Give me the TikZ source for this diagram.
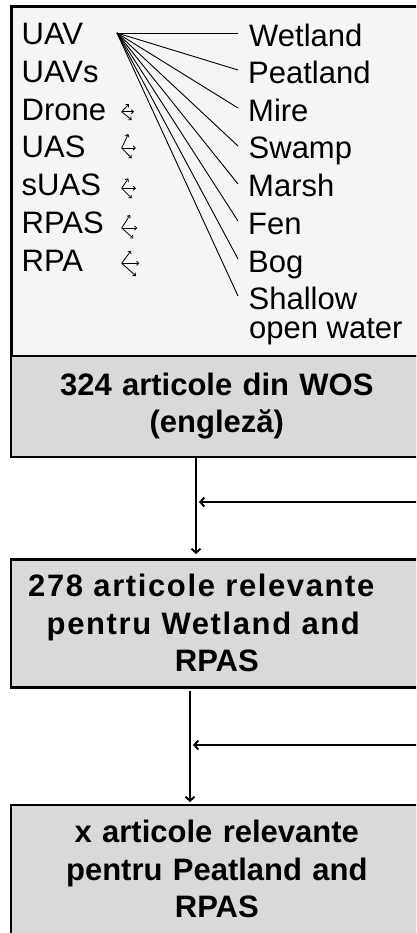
\documentclass[tikz,border=0pt]{standalone}
\usepackage{fontspec}
\setmainfont{Liberation Sans}
\usetikzlibrary{arrows.meta,calc}
\definecolor{topfill}{HTML}{F5F5F5}
\definecolor{boxfill}{HTML}{D9D9D9}
\tikzset{
  term/.style={anchor=base west,inner sep=0pt,font=\fontsize{31}{29}\selectfont},
  fanline/.style={line width=0.8pt,-{Straight Barb[length=2.2pt,width=4pt]}},
  ray/.style={line width=0.9pt},
  graybox/.style={draw=black,line width=2.6pt,fill=boxfill,anchor=north west,minimum width=412pt,
    text width=400pt,align=center,inner sep=0pt,font=\fontsize{31}{37.5}\selectfont\bfseries},
  arr/.style={line width=1.9pt,-{Straight Barb[length=4pt,width=9pt]}}
}
\newcommand\fanarr[7]{%
  \coordinate (fo) at (#1,#2);
  \draw[fanline] (fo) -- (#3,#4);
  \draw[fanline] (fo) -- (#5,#2);
  \draw[fanline] (fo) -- (#6,#7);
}
\newcommand\wide[1]{{\addfontfeature{LetterSpace=5.2}#1}}
\begin{document}
\begin{tikzpicture}[x=1pt,y=-1pt]
\useasboundingbox (0,0) rectangle (416,933);
\clip (0,0) rectangle (416,933);
% top box
\node[draw=black,line width=3pt,fill=topfill,anchor=north west,minimum width=412pt,minimum height=350pt,inner sep=0pt] (top) at (9.5,5) {};
% left terms
\node[term] (uav) at (21.5,45) {UAV};
\node[term] (uavs) at (21.5,82.7) {UAVs};
\node[term] (drone) at (21.5,120.4) {Drone};
\node[term] (uas) at (21.5,158) {UAS};
\node[term] (suas) at (21.5,195.8) {sUAS};
\node[term] (rpas) at (21.5,233.5) {RPAS};
\node[term] (rpa) at (21.5,271.2) {RPA};
% right terms
\node[term] (wet) at (249,47) {Wetland};
\node[term] (peat) at (248,84) {Peatland};
\node[term] (mire) at (248,122) {Mire};
\node[term] (swamp) at (248.5,159) {Swamp};
\node[term] (marsh) at (248,197) {Marsh};
\node[term] (fen) at (248,234) {Fen};
\node[term] (bog) at (248,272) {Bog};
\node[term] (shallow) at (248.5,309) {Shallow};
\node[term] (openw) at (249,338) {open water};
% rays
\coordinate (hub) at (117,33);
\foreach \n/\y in {wet/33,peat/70,mire/108,swamp/146,marsh/184,fen/221,bog/259,shallow/296}{
  \draw[ray] (hub) -- (238,\y);
}
% fan arrows
\fanarr{121.7}{111.7}{129}{104}{134}{131.7}{120}
\fanarr{121.7}{148}{128.3}{134}{136}{131.7}{158.3}
\fanarr{121.7}{188.3}{128.3}{178.3}{136}{131.7}{198.3}
\fanarr{121.7}{228}{130}{215}{137.3}{133.3}{238.3}
\fanarr{121.7}{263.3}{131}{250.7}{139.3}{136}{276}
% gray boxes
\node[graybox,minimum height=101pt] (b1) at (9.5,354.5) {324 articole din WOS\\(engleză)};
\node[graybox,minimum height=128pt] (b2) at (9.5,558) {\wide{278 articole relevante}\kern31pt\\\wide{pentru Wetland and}\kern27pt\\RPAS};
\node[graybox,minimum height=129pt] (b3) at (9.5,803.5) {x articole relevante\\pentru Peatland and\\RPAS};
% connectors
\coordinate (v1) at (196,0);
\coordinate (v2) at (190,0);
\coordinate (h1) at (418,502);
\coordinate (h2) at (418,745);
\draw[arr,shorten >=4pt] (b1.south -| v1) -- (b2.north -| v1);
\draw[arr,shorten >=3pt] (h1) -- (h1 -| v1);
\draw[arr,shorten <=2pt,shorten >=1.5pt] (b2.south -| v2) -- (b3.north -| v2);
\draw[arr,shorten >=3pt] (h2) -- (h2 -| v2);
\end{tikzpicture}
\end{document}
